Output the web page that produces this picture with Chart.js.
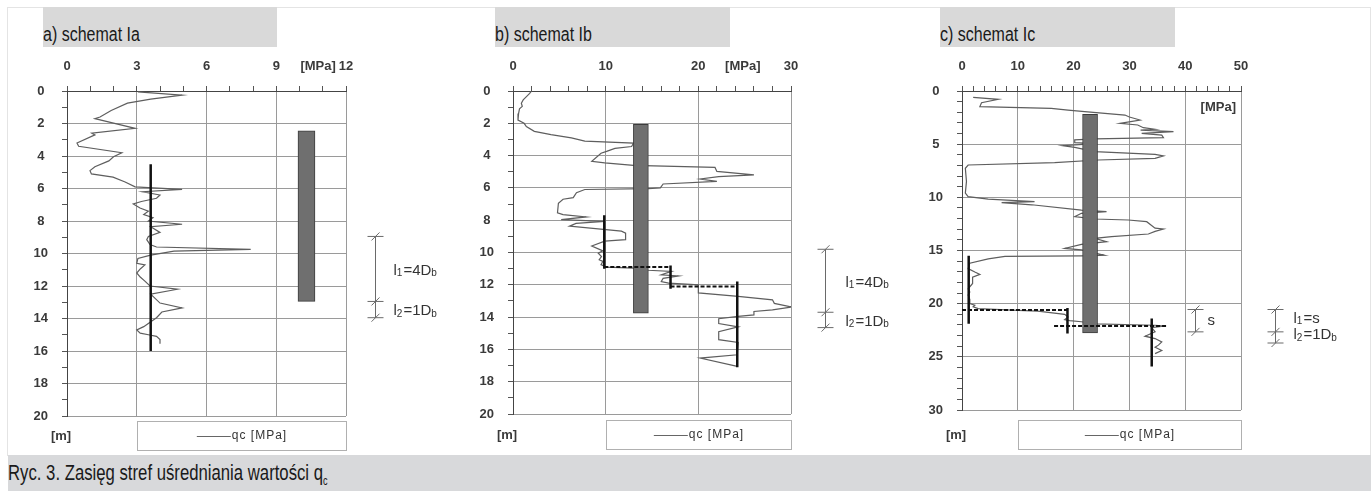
<!DOCTYPE html>
<html>
<head>
<meta charset="utf-8">
<script src="https://cdn.jsdelivr.net/npm/chart.js@4.4.0/dist/chart.umd.min.js"></script>
<style>
  body { margin: 0; background: #fff; }
  #fig { position: relative; width: 1371px; height: 491px; overflow: hidden; font-family: "Liberation Sans", Arial, sans-serif; }
  .frame { position: absolute; left: 7px; top: 7px; width: 1362px; height: 448px; border: 1px solid #e4e4e4; border-bottom: none; }
  .title { position: absolute; top: 7px; height: 40px; background: #d9d9d9; }
  .title span { position: absolute; left: 0; top: 16px; color: #1a1a1a; font-family: "Liberation Sans", Arial, sans-serif;
                font-size: 20px; line-height: 22px; white-space: nowrap; transform: scaleX(0.8); transform-origin: left; }
  canvas { position: absolute; top: 50px; }
  .caption { position: absolute; left: 8px; right: 0; top: 455px; height: 36px; background: #d8d9db; }
  .caption span { position: absolute; left: 0; top: 5px; font-family: "Liberation Sans", Arial, sans-serif;
                  font-size: 22px; line-height: 25px; color: #1a1a1a; white-space: nowrap; transform: scaleX(0.76); transform-origin: left; }
</style>
</head>
<body>
<div id="fig">
  <div class="frame"></div>
  <div class="title" style="left:43px;width:234px"><span>a) schemat Ia</span></div>
  <div class="title" style="left:495px;width:235px"><span>b) schemat Ib</span></div>
  <div class="title" style="left:940px;width:235px"><span>c) schemat Ic</span></div>
  <canvas id="chartA" width="447" height="405" style="left:8px"></canvas>
  <canvas id="chartB" width="455" height="405" style="left:455px"></canvas>
  <canvas id="chartC" width="461" height="405" style="left:910px"></canvas>
  <div class="caption"><span>Ryc. 3. Zasięg stref uśredniania wartości q<sub style="font-size:12px">c</sub></span></div>
</div>
<script>
// ---- a) schemat Ia ----
const xTicksA = [0, 3, 6, 9, 12];
const yTicksA = [0, 2, 4, 6, 8, 10, 12, 14, 16, 18, 20];
const depthA = [0.05, 0.25, 0.5, 0.75, 1.2, 1.6, 1.7, 2.3, 2.6, 2.7, 3.2, 3.4, 3.8, 4.05, 4.3, 4.66, 4.9, 5.1, 5.3, 5.6, 5.9, 5.95,
  6.05, 6.2, 6.4, 6.6, 6.8, 6.95, 7.2, 7.4, 7.6, 7.8, 8.0, 8.2, 8.35, 8.7, 8.95, 9.15, 9.45, 9.6, 9.75, 9.85, 10.1, 10.3,
  10.6, 10.7, 10.95, 11.2, 11.45, 11.7, 12.0, 12.2, 12.5, 13.05, 13.35, 13.6, 13.95, 14.5, 14.7, 14.9, 15.0, 15.1, 15.3, 15.55];
const qcA = [3.05, 4.95, 3.6, 2.6, 1.9, 1.42, 1.2, 2.93, 1.07, 1.2, 0.43, 0.5, 2.36, 2.0, 1.8, 1.2, 0.99, 1.05, 1.98, 2.5, 2.93, 3.5,
  4.95, 3.25, 4.0, 3.85, 3.2, 2.85, 3.14, 3.5, 3.3, 3.7, 3.5, 4.95, 3.6, 4.0, 3.5, 3.43, 3.57, 3.85, 7.9, 4.6, 3.6, 3.05,
  3.0, 3.35, 3.15, 3.0, 3.15, 3.35, 3.57, 4.75, 3.6, 4.0, 4.95, 4.08, 3.85, 3.3, 3.0, 3.15, 3.5, 3.85, 4.0, 4.0];
const avgXA = [3.6];
const avgTopA = [4.5];
const avgBottomA = [16];
const dashDepthA = [];
const dashFromA = [];
const dashToA = [];
const pileXA = 10.3;
const pileA = [2.45, 12.95];
const dimDepthsA = [8.95, 12.95, 13.95];
const dimLabelsA = ['l_1=4D_b', 'l_2=1D_b'];

// ---- b) schemat Ib ----
const xTicksB = [0, 10, 20, 30];
const yTicksB = [0, 2, 4, 6, 8, 10, 12, 14, 16, 18, 20];
const depthB = [0.0, 0.15, 0.35, 0.55, 0.76, 0.95, 1.1, 1.4, 1.8, 2.0, 2.2, 2.5, 2.7, 2.9, 3.1, 3.23, 3.44, 3.55, 3.74, 3.85,
  4.36, 4.45, 4.6, 4.73, 4.98, 5.19, 5.3, 5.45, 5.6, 5.76, 6.0, 6.04, 6.1, 6.3, 6.6, 6.7, 6.95, 7.55, 7.65, 7.8, 7.96, 8.07,
  8.2, 8.37, 8.68, 8.8, 9.2, 9.3, 9.6, 9.9, 10.04, 10.25, 10.45, 10.55, 10.75, 10.9, 10.97, 11.1, 11.17, 11.38, 11.45, 11.6,
  11.8, 11.9, 12.0, 12.5, 12.72, 12.93, 13.15, 13.38, 13.55, 13.65, 13.86, 13.96, 14.1, 14.4, 14.6, 14.9, 15.4, 15.57,
  16.33, 16.54, 17.05];
const qcB = [2.0, 1.8, 1.45, 1.1, 0.9, 1.0, 0.7, 0.6, 0.54, 1.2, 1.44, 2.3, 4.1, 6.3, 7.75, 13.0, 12.8, 11.0, 10.1, 9.5,
  8.5, 9.9, 13.0, 21.8, 22.0, 26.0, 22.2, 20.2, 22.0, 16.2, 15.9, 14.6, 7.75, 6.85, 6.5, 5.4, 4.9, 4.8, 5.4, 7.9, 5.2, 9.9,
  6.8, 6.1, 11.7, 12.15, 12.15, 9.9, 8.5, 9.7, 9.2, 9.55, 9.3, 9.7, 9.5, 10.1, 13.0, 14.6, 17.1, 16.0, 17.85, 16.2,
  16.0, 16.8, 20.0, 20.0, 24.3, 28.0, 28.2, 30.1, 28.0, 26.0, 26.0, 24.3, 22.2, 22.2, 24.3, 22.2, 22.2, 24.3,
  24.2, 20.2, 24.2];
const avgXB = [9.85, 17.0, 24.2];
const avgTopB = [7.7, 10.8, 11.8];
const avgBottomB = [11.0, 12.25, 17.1];
const dashDepthB = [10.9, 12.1];
const dashFromB = [9.85, 17.0];
const dashToB = [17.0, 24.2];
const pileXB = 13.8;
const pileB = [2.06, 13.75];
const dimDepthsB = [9.8, 13.7, 14.65];
const dimLabelsB = ['l_1=4D_b', 'l_2=1D_b'];

// ---- c) schemat Ic ----
const xTicksC = [0, 10, 20, 30, 40, 50];
const yTicksC = [0, 5, 10, 15, 20, 25, 30];
const depthC = [0.6, 0.78, 1.1, 1.47, 1.63, 1.8, 1.94, 2.26, 2.45, 2.73, 3.04, 3.2, 3.45, 3.6, 3.68, 3.82, 3.98, 4.15, 4.39,
  4.51, 4.6, 4.85, 4.95, 5.14, 5.3, 5.7, 5.96, 6.1, 6.33, 6.49, 6.74, 6.96, 7.27, 8.5, 9.6, 9.94, 10.16, 10.4, 10.5, 10.7,
  11.2, 11.35, 11.5, 11.82, 12.04, 12.13, 12.29, 12.9, 12.98, 13.2, 13.45, 13.7, 13.86, 14.17, 14.42, 14.8, 14.95, 15.44,
  15.5, 15.56, 15.78, 16.19, 16.7, 17.03, 17.25, 17.5, 18.1, 18.6, 18.9, 19.2, 19.6, 20.0, 20.15, 20.3, 20.47, 20.6, 20.7,
  21.0, 21.25, 21.5, 21.6, 21.7, 21.9, 22.03, 22.1, 22.25, 22.65, 23.06, 23.28, 23.6, 23.9, 24.1, 24.4, 24.7];
const qcC = [2.0, 6.5, 3.5, 3.2, 16.0, 19.0, 22.0, 29.2, 30.0, 31.9, 28.3, 31.5, 32.5, 34.5, 32.0, 37.9, 32.2, 35.8, 36.1,
  23.8, 20.2, 20.2, 23.8, 18.1, 20.2, 23.8, 34.6, 36.1, 34.6, 24.4, 16.6, 1.1, 0.6, 0.8, 0.6, 1.1, 4.7, 13.0, 7.1, 12.5,
  21.4, 25.9, 21.4, 20.2, 23.8, 29.8, 33.1, 34.6, 36.1, 34.6, 33.4, 26.8, 23.8, 25.9, 21.4, 18.4, 21.4, 25.5,
  21.4, 7.7, 4.7, 1.4, 1.1, 2.3, 3.2, 1.9, 1.9, 1.1, 1.4, 1.1, 1.4, 1.4, 2.3, 2.0, 2.9, 8.9, 13.6,
  18.4, 19.0, 18.4, 19.3, 21.4, 23.8, 34.6, 36.4, 34.0, 34.6, 32.8, 34.6, 35.8, 35.2, 34.6, 35.8, 34.6];
const avgXC = [1.2, 18.9, 34.0];
const avgTopC = [15.5, 20.4, 21.4];
const avgBottomC = [21.9, 22.8, 25.9];
const dashDepthC = [20.6, 22.1];
const dashFromC = [0, 16.5];
const dashToC = [18.9, 36.6];
const pileXC = 22.95;
const pileC = [2.19, 22.75];
const dimSAtC = 41.8;
const dimSDepthsC = [20.55, 22.65];
const dimDepthsC = [20.55, 22.65, 23.7];
const dimLabelsC = ['l_1=s', 'l_2=1D_b'];

const FONT = '"Liberation Sans", Arial, sans-serif';

function drawSubText(ctx, text, x, y) {
  // "l_1=4D_b" -> l, sub 1, =4D, sub b
  const parts = text.split(/_(\w)/);
  let cx = x;
  parts.forEach((p, i) => {
    const sub = i % 2 === 1;
    ctx.font = (sub ? '10px ' : '15px ') + FONT;
    ctx.fillText(p, cx, sub ? y + 3 : y);
    cx += ctx.measureText(p).width + (sub ? 1 : 0);
  });
}

function drawDim(ctx, yScale, xPix, depths) {
  ctx.strokeStyle = '#6a6a6a';
  ctx.lineWidth = 1;
  ctx.beginPath();
  ctx.moveTo(xPix, yScale.getPixelForValue(depths[0]));
  ctx.lineTo(xPix, yScale.getPixelForValue(depths[depths.length - 1]));
  ctx.stroke();
  depths.forEach(d => {
    const py = yScale.getPixelForValue(d);
    ctx.beginPath();
    ctx.moveTo(xPix - 8, py); ctx.lineTo(xPix + 8, py);
    ctx.moveTo(xPix - 4, py + 4); ctx.lineTo(xPix + 4, py - 4);
    ctx.stroke();
  });
}

// one plugin per panel, its settings kept in the closure
function makeExtras(o) {
  return {
    id: 'extras',
    afterDraw(chart) {
      const { ctx, chartArea: a, scales: { x, y } } = chart;
      ctx.save();
      ctx.fillStyle = '#3a3a3a';
      ctx.font = 'bold 13px ' + FONT;
      ctx.textBaseline = 'middle';
      if (o.unitAt != null) {
        ctx.textAlign = 'center';
        ctx.fillText('[MPa]', x.getPixelForValue(o.unitAt), a.top - 25);
      } else {
        ctx.textAlign = 'right';
        ctx.fillText('[MPa]', a.right - 5, a.top + 16);
      }
      ctx.textAlign = 'center';
      ctx.fillText('[m]', a.left - 6, a.bottom + o.legendGap + 15);

      // legend box
      const lx = Math.round(x.getPixelForValue(o.legendFrom)) + 0.5;
      const ly = Math.round(a.bottom + o.legendGap) + 0.5;
      const lw = Math.round(a.right) - lx + 0.5;
      ctx.strokeStyle = '#b0b0b0'; ctx.lineWidth = 1;
      ctx.strokeRect(lx, ly, lw, 29);
      ctx.font = '12px ' + FONT;
      ctx.letterSpacing = '1px';
      const label = 'qc [MPa]';
      const tw = ctx.measureText(label).width;
      const gx = lx + lw / 2 - (35 + tw) / 2;
      ctx.strokeStyle = '#666';
      ctx.beginPath(); ctx.moveTo(gx, ly + 15); ctx.lineTo(gx + 34, ly + 15); ctx.stroke();
      ctx.textAlign = 'left';
      ctx.fillStyle = '#333';
      ctx.fillText(label, gx + 35, ly + 14);
      ctx.letterSpacing = '0px';

      // dimension marks
      o.dims.forEach(dm => {
        const xp = dm.at != null ? Math.round(x.getPixelForValue(dm.at)) + 0.5 : Math.round(a.right + dm.dx) + 0.5;
        drawDim(ctx, y, xp, dm.depths);
        dm.labels.forEach((t, i) => {
          const mid = (dm.depths[i] + dm.depths[i + 1]) / 2 + dm.shift;
          ctx.fillStyle = '#333';
          ctx.textAlign = 'left';
          ctx.textBaseline = 'middle';
          drawSubText(ctx, t, xp + dm.tx, y.getPixelForValue(mid));
        });
      });
      ctx.restore();
    }
  };
}

function makePanel(id, p) {
  const datasets = [{
    type: 'bar',
    data: [{ x: p.pileX, y: p.pile }],
    backgroundColor: '#6f6f6f', borderColor: '#3c3c3c', borderWidth: 1, borderSkipped: false,
    barThickness: p.pileWidth, order: 1
  }, {
    data: p.depth.map((d, i) => ({ x: p.qc[i], y: d })),
    showLine: true, borderColor: '#5e5e5e', borderWidth: 1.2, pointRadius: 0, order: 2
  }];
  p.avgX.forEach((v, i) => datasets.push({
    data: [{ x: v, y: p.avgTop[i] }, { x: v, y: p.avgBottom[i] }],
    showLine: true, borderColor: '#111', borderWidth: 2.5, pointRadius: 0, order: 0
  }));
  p.dashDepth.forEach((d, i) => datasets.push({
    data: [{ x: p.dashFrom[i], y: d }, { x: p.dashTo[i], y: d }],
    showLine: true, borderColor: '#111', borderWidth: 2, borderDash: [4, 2], pointRadius: 0, order: 0
  }));

  const tickFont = { family: FONT, size: 13, weight: 'bold' };
  new Chart(document.getElementById(id), {
    type: 'scatter',
    data: { datasets },
    plugins: [makeExtras(p.extras)],
    options: {
      responsive: false, animation: false, events: [],
      layout: { padding: p.padding },
      plugins: { legend: { display: false }, tooltip: { enabled: false } },
      scales: {
        x: {
          type: 'linear', position: 'top', min: 0, max: p.xTicks[p.xTicks.length - 1], offset: false,
          ticks: { stepSize: p.xMinor, autoSkip: false, maxRotation: 0, padding: 12, color: '#3a3a3a', font: tickFont,
                   callback: v => p.xTicks.includes(v) ? v : '' },
          grid: { offset: false, color: c => (c.tick && p.xTicks.includes(c.tick.value)) ? '#9a9a9a' : 'rgba(0,0,0,0)',
                  tickColor: '#555', tickLength: 5, lineWidth: 1 },
          border: { color: '#444', width: 1 },
          afterFit: s => { s.height = 30; }
        },
        y: {
          type: 'linear', reverse: true, min: 0, max: p.yTicks[p.yTicks.length - 1], offset: false,
          ticks: { stepSize: 1, autoSkip: false, padding: 14, crossAlign: 'center', color: '#3a3a3a', font: tickFont,
                   callback: v => p.yTicks.includes(v) ? v : '' },
          grid: { offset: false, color: c => (c.tick && p.yTicks.includes(c.tick.value)) ? '#9a9a9a' : 'rgba(0,0,0,0)',
                  tickColor: '#555', tickLength: 5, lineWidth: 1 },
          border: { color: '#444', width: 1 },
          afterFit: s => { s.width = 40; }
        }
      }
    }
  });
}

makePanel('chartA', {
  depth: depthA, qc: qcA, avgX: avgXA, avgTop: avgTopA, avgBottom: avgBottomA,
  dashDepth: dashDepthA, dashFrom: dashFromA, dashTo: dashToA,
  pileX: pileXA, pile: pileA, pileWidth: 17,
  xTicks: xTicksA, yTicks: yTicksA, xMinor: 1,
  padding: { left: 19, right: 109, top: 11, bottom: 39 },
  extras: { unitAt: 10.8, legendFrom: 3, legendGap: 5,
            dims: [{ dx: 29, tx: 18, shift: 0.1, depths: dimDepthsA, labels: dimLabelsA }] }
});

makePanel('chartB', {
  depth: depthB, qc: qcB, avgX: avgXB, avgTop: avgTopB, avgBottom: avgBottomB,
  dashDepth: dashDepthB, dashFrom: dashFromB, dashTo: dashToB,
  pileX: pileXB, pile: pileB, pileWidth: 15,
  xTicks: xTicksB, yTicks: yTicksB, xMinor: 2,
  padding: { left: 18, right: 119, top: 11, bottom: 41 },
  extras: { unitAt: 24.8, legendFrom: 10, legendGap: 6,
            dims: [{ dx: 34, tx: 20, shift: 0.1, depths: dimDepthsB, labels: dimLabelsB }] }
});

makePanel('chartC', {
  depth: depthC, qc: qcC, avgX: avgXC, avgTop: avgTopC, avgBottom: avgBottomC,
  dashDepth: dashDepthC, dashFrom: dashFromC, dashTo: dashToC,
  pileX: pileXC, pile: pileC, pileWidth: 15,
  xTicks: xTicksC, yTicks: yTicksC, xMinor: 2,
  padding: { left: 12, right: 130, top: 11, bottom: 45 },
  extras: { unitAt: null, legendFrom: 10, legendGap: 10,
            dims: [{ at: dimSAtC, tx: 12, shift: 0.0, depths: dimSDepthsC, labels: ['s'] },
                   { dx: 34, tx: 18, shift: -0.2, depths: dimDepthsC, labels: dimLabelsC }] }
});
</script>
</body>
</html>
